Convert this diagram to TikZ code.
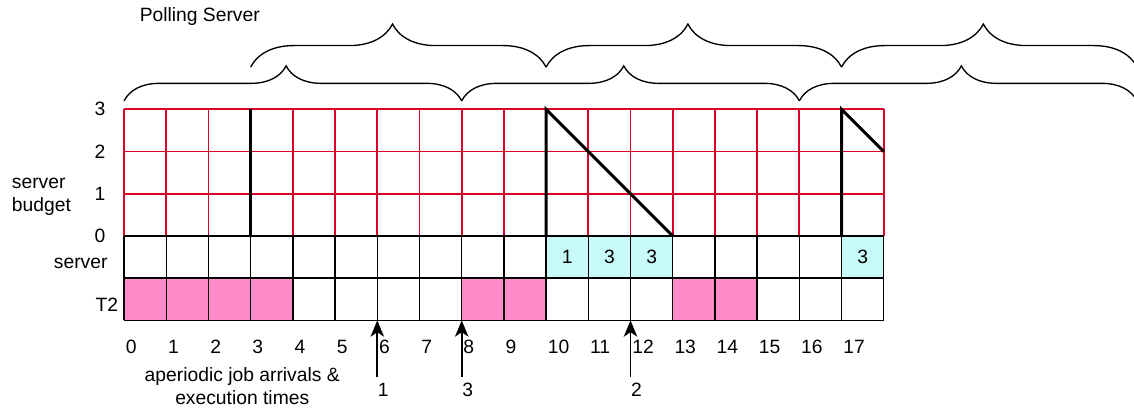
\documentclass[tikz,border=0pt]{standalone}
\usepackage{fontspec}
\setmainfont{Liberation Sans}
\usetikzlibrary{decorations.pathreplacing,arrows.meta}
\definecolor{tpink}{RGB}{255,140,200}
\definecolor{scyan}{RGB}{200,250,250}
\definecolor{gridred}{RGB}{220,0,40}
\begin{document}
\begin{tikzpicture}[x=1cm,y=1cm,
  lbl/.style={font=\fontsize{13}{15.5}\selectfont, inner sep=1pt},
  cell/.style={draw=black, line width=1pt},
  rgrid/.style={draw=gridred, line width=1.2pt},
  budgetline/.style={line width=2pt, draw=black, line join=miter},
  brc/.style={decorate, decoration={brace, amplitude=#1, aspect=0.48}, line width=0.9pt},
  arr/.style={-{Stealth[length=11pt,width=9pt,inset=3pt]}, line width=1.3pt}]
\useasboundingbox (-2.94,-4.08) rectangle (23.93,5.59);

% fills
\foreach \x in {0,1,2,3,8,9,13,14} \fill[tpink] (\x,-2) rectangle ++(1,1);
\foreach \x in {10,11,12,17} \fill[scyan] (\x,-1) rectangle ++(1,1);

% red budget grid
\foreach \x in {0,...,18} \draw[rgrid] (\x,0) -- (\x,3);
\foreach \y in {1,2,3} \draw[rgrid] (0,\y) -- (18,\y);

% black cells
\foreach \x in {0,...,18} \draw[cell] (\x,-2) -- (\x,0);
\foreach \y in {0,-1,-2} \draw[cell] (0,\y) -- (18,\y);

% budget curve
\draw[budgetline] (3,0) -- (3,3);
\draw[budgetline] (10,0) -- (10,3) -- (13,0);
\draw[budgetline] (17,0) -- (17,3) -- (18,2);

% server labels
\node[lbl] (s10) at (10.5,-0.5) {1};
\node[lbl] (s11) at (11.5,-0.5) {3};
\node[lbl] (s12) at (12.5,-0.5) {3};
\node[lbl] (s17) at (17.5,-0.5) {3};

% axis labels
\foreach \y in {0,1,2,3} \node[lbl, anchor=east] (b\y) at (-0.4,\y) {\y};
\node[lbl, anchor=west, align=left] (sb) at (-2.70,0.92) {server\\budget};
\node[lbl, anchor=east] (srv) at (-0.35,-0.64) {server};
\node[lbl, anchor=east] (t2) at (-0.1,-1.64) {T2};
\foreach \x in {0,...,17} \node[lbl, anchor=west] (t\x) at (\x,-2.63) {\x};

\node[lbl, anchor=west] (title) at (0.33,5.19) {Polling Server};
\node[lbl, align=center] (ap) at (2.8,-3.56) {aperiodic job arrivals \&\\execution times};

% arrivals
\foreach \x/\c in {6/1,8/3,12/2} {
  \coordinate (ab\x) at (\x,-3.34);
  \coordinate (at\x) at (\x,-2);
  \draw[arr] (ab\x) -- (at\x);
  \node[lbl] (al\x) at (\x+0.14,-3.65) {\c};
}

% braces
\foreach \a/\b in {0/8,8/16,16/24} \draw[brc=0.83cm] (\a,3.2) -- (\b,3.2);
\foreach \a/\b in {3/10,10/17,17/24} \draw[brc=1.02cm] (\a,4.0) -- (\b,4.0);
\end{tikzpicture}
\end{document}
